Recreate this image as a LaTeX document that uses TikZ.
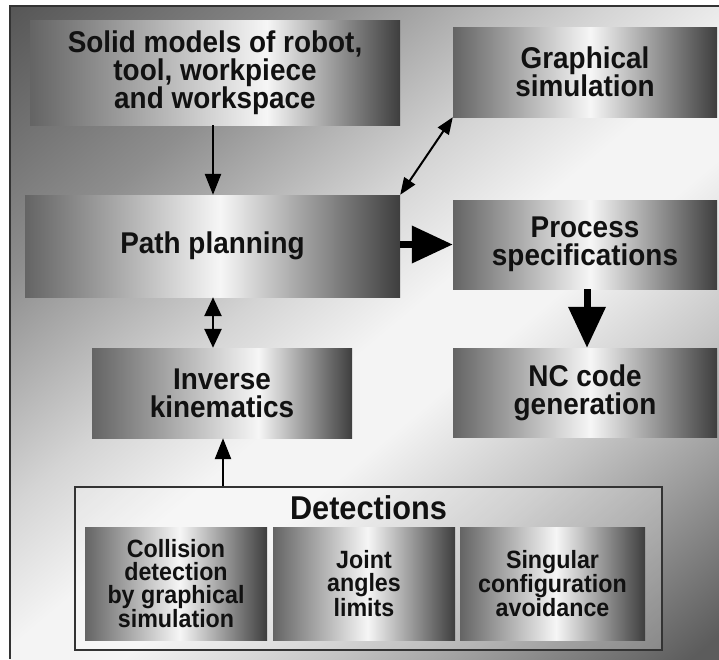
\documentclass[tikz,border=0pt]{standalone}
\usepackage{fontspec}
\setmainfont{Liberation Sans}[FakeStretch=0.93]
\usetikzlibrary{arrows.meta,calc}

% colours
\definecolor{ink}{HTML}{111111}
\definecolor{rule}{HTML}{333333}
\definecolor{bgA}{HTML}{575757}
\definecolor{bgB}{HTML}{8E8E8E}
\definecolor{bgC}{HTML}{D4D4D4}
\definecolor{bgD}{HTML}{F4F4F4}
\definecolor{bgE}{HTML}{C4C4C4}
\definecolor{bgF}{HTML}{9A9A9A}
\definecolor{bgG}{HTML}{5C5C5C}
\definecolor{pnL}{HTML}{646464}
\definecolor{pnM}{HTML}{F6F6F6}
\definecolor{pnR}{HTML}{3E3E3E}

% diagonal backdrop of the frame
\pgfdeclarehorizontalshading{backdrop}{100bp}{%
  color(0bp)=(bgA); color(15bp)=(bgA); color(30bp)=(bgB); color(43bp)=(bgC);
  color(51bp)=(bgD); color(57bp)=(bgD); color(67bp)=(bgE); color(74bp)=(bgF);
  color(84bp)=(bgG); color(100bp)=(bgG)}
% panels: dark left, bright band, dark right
\pgfdeclarehorizontalshading{panel}{100bp}{%
  color(0bp)=(pnL); color(25bp)=(pnL); color(51bp)=(pnM); color(75bp)=(pnR); color(100bp)=(pnR)}
\pgfdeclarehorizontalshading{panelR}{100bp}{%
  color(0bp)=(pnL); color(25bp)=(pnL); color(57bp)=(pnM); color(75bp)=(pnR); color(100bp)=(pnR)}

\tikzset{
  box/.style={rectangle, inner sep=0pt, shading=panel, text=ink, align=center,
    font=\fontsize{30}{28}\selectfont\bfseries},
  boxR/.style={box, shading=panelR},
  subbox/.style={box, font=\fontsize{25}{23.2}\selectfont\bfseries},
  thin/.style={draw=black, line width=2.6pt, -{Triangle[length=21pt,width=16pt]}},
  thinboth/.style={draw=black, line width=2.6pt, {Triangle[length=19pt,width=17pt]}-{Triangle[length=19pt,width=17pt]}},
  thinpair/.style={draw=black, line width=2pt, {Triangle[length=17pt,width=13pt]}-{Triangle[length=17pt,width=13pt]}},
  bold/.style={draw=black, line width=7pt, -{Triangle[length=41pt,width=36pt]}}
}

\begin{document}
\begin{tikzpicture}[x=1pt, y=-1pt]
  \useasboundingbox (0,0) rectangle (719,659);
  \fill[white] (0,0) rectangle (719,659);

  % frame with its backdrop
  \shade[shading=backdrop, shading angle=-50] (10,6) rectangle (719,659);
  \draw[rule, line width=1.5pt] (10,659) -- (10,6) -- (719,6);

  % upper panels
  \node[boxR, minimum width=370pt, minimum height=105pt] (solid) at (215,72.5)
    {Solid models of robot,\\tool, workpiece\\and workspace};
  \node[box, minimum width=264pt, minimum height=90pt] (graph) at (585,72)
    {Graphical\\simulation};
  \node[box, minimum width=375pt, minimum height=102pt] (path) at (212.5,246)
    {Path planning};
  \node[box, minimum width=264pt, minimum height=89pt] (proc) at (585,244.5)
    {Process\\specifications};
  \node[boxR, minimum width=260pt, minimum height=90pt] (inv) at (222,393)
    {Inverse\\kinematics};
  \node[box, minimum width=264pt, minimum height=89pt] (nc) at (585,392.5)
    {NC code\\generation};

  % detections group
  \node[rectangle, draw=rule, line width=1.6pt, fill=white, fill opacity=0.22,
        minimum width=587pt, minimum height=163pt, inner sep=0pt] (det) at (368.5,568.5) {};
  \node[text=ink, font=\fontsize{33}{34}\selectfont\bfseries] (dettitle) at (368.5,508) {Detections};
  \node[subbox, minimum width=182pt, minimum height=113pt] (coll) at (176,583.5)
    {Collision\\detection\\by graphical\\simulation};
  \node[subbox, minimum width=182pt, minimum height=113pt] (joint) at (364,583.5)
    {Joint\\angles\\limits};
  \node[subbox, minimum width=185pt, minimum height=113pt] (sing) at (552.5,583.5)
    {Singular\\configuration\\avoidance};

  % connectors
  \draw[thin] (solid.south -| 213,0) -- (213,0 |- path.north);
  \draw[thinpair] (path.north east) -- (graph.south west);
  \draw[bold] (path.east |- proc.west) -- (proc.west);
  \draw[bold] (proc.south -| 587,0) -- (587,0 |- nc.north);
  \draw[thinboth] (path.south -| 213,0) -- (213,0 |- inv.north);
  \draw[thin] (det.north -| 223,0) -- (223,0 |- inv.south);
\end{tikzpicture}
\end{document}
